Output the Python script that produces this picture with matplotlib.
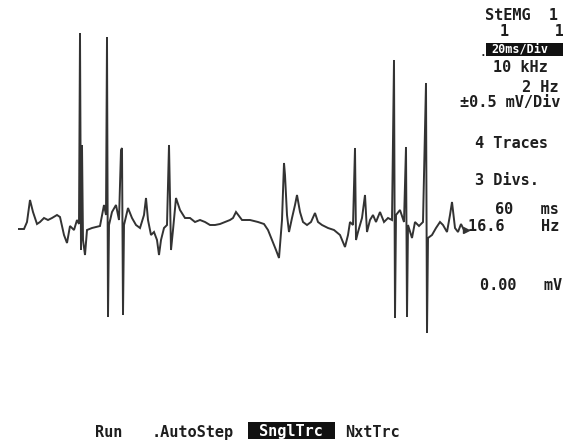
"""Single-trace EMG screen capture: superimposed traces plus the side/status text."""
import matplotlib
matplotlib.use("Agg")
import matplotlib.pyplot as plt
import numpy as np
from matplotlib.patches import Rectangle

W, H = 563, 444

# --- trace samples (t in ms, amplitude in mV) ---
time_ms = [0, 3, 4.5, 6, 7.5, 9.5, 11, 13, 15, 17, 19.5, 21, 23, 24.5, 26, 28, 29.5,
           30.5, 31, 31.5, 32, 32.5, 33.5, 34.5, 37, 41, 43, 44, 44.5, 45, 45.5, 47, 49,
           50.5, 51.5, 52, 52.5, 53, 55, 57, 59, 61, 63, 64, 65, 66.5, 68, 69.5, 70.5,
           71.5, 73, 74.5, 75.5, 76.5, 77.5, 79, 81, 83.5, 86, 88.5, 91, 93.5, 96, 98.5,
           101, 103.5, 106, 107.5, 109, 110.5, 112, 116, 120, 123, 125, 127, 129, 130.5,
           132, 133, 133.5, 134.5, 135.5, 137, 138.5, 139.5, 141, 142.5, 144.5, 146.5,
           148.5, 150, 152, 155, 158, 161, 163.5, 165, 166, 167.5, 168.5, 169, 170, 172,
           173.5, 174.5, 176, 177.5, 179, 181, 183, 185, 187, 188, 188.5, 189, 191, 193,
           194, 194.5, 195, 197, 198.5, 200.5, 202.5, 204, 204.5, 205, 207, 209, 211,
           212.5, 214.5, 216, 217, 218.5, 220, 221.5, 223, 224]
amp_mv = [-0.01, -0.01, 0.06, 0.28, 0.16, 0.04, 0.06, 0.10, 0.08, 0.10, 0.13, 0.11, -0.07,
          -0.15, 0.02, -0.02, 0.08,
          0.04, 1.95, -0.22, 0.83, -0.12, -0.27, -0.02, 0.0, 0.02, 0.23, 0.13, 1.91, -0.89,
          0.03, 0.16, 0.23,
          0.08, 0.78, 0.80, -0.87, 0.03, 0.20, 0.10, 0.03, 0.0, 0.13, 0.30, 0.08, -0.07,
          -0.04, -0.12, -0.27,
          -0.12, 0.0, 0.03, 0.83, -0.22, -0.02, 0.30, 0.18, 0.10, 0.10, 0.06, 0.08, 0.06,
          0.03, 0.03,
          0.04, 0.06, 0.08, 0.10, 0.16, 0.12, 0.08, 0.08, 0.06, 0.04, -0.02, -0.12, -0.22,
          -0.30,
          0.08, 0.65, 0.53, 0.13, -0.04, 0.10, 0.23, 0.33, 0.16, 0.06, 0.03, 0.06,
          0.15, 0.06, 0.03, 0.0, -0.02, -0.07, -0.19, -0.07, 0.06, 0.03, 0.80, -0.12,
          -0.04, 0.10,
          0.33, -0.04, 0.08, 0.13, 0.06, 0.16, 0.06, 0.10, 0.08, 1.68, -0.90, 0.13, 0.18,
          0.06,
          0.81, -0.89, 0.03, -0.10, 0.06, 0.02, 0.06, 1.45, -1.05, -0.10, -0.07, 0.0, 0.06,
          0.03, -0.04, 0.13, 0.26, 0.0, -0.04, 0.04, -0.02, -0.02]

# --- screen text ---
side_labels = [("StEMG  1", 485, 16), ("1     1", 500, 31), ("10 kHz", 493, 68),
               ("2 Hz", 522, 87), ("±0.5 mV/Div", 460, 102), ("4 Traces", 475, 143),
               ("3 Divs.", 475, 180), ("60   ms", 495, 209), ("16.6    Hz", 468, 226),
               ("0.00   mV", 480, 285)]
sweep_label = "20ms/Div"
menu_labels = [("Run", 95), (".AutoStep", 152), ("NxtTrc", 345)]
menu_active = "SnglTrc"

FONT = dict(family="DejaVu Sans Mono", fontweight="bold", fontsize=11)


def fx(px):
    return px / W


def fy(py):
    return 1 - py / H


fig = plt.figure(figsize=(W / 100, H / 100), dpi=100)
fig.patch.set_facecolor("white")

# trace area: 1 ms = 2 px, 1 mV = 100 px, baseline at y=228
ax = fig.add_axes([fx(18), 0, 448 / W, 1])
ax.set_xlim(0, 224)
ax.set_ylim(-2.16, 2.28)
ax.axis("off")
t = np.asarray(time_ms)
v = np.asarray(amp_mv)
ax.plot(t, v, color="#333333", lw=1.4, solid_joinstyle="miter")
ax.plot(t[-1], v[-1], marker=">", ms=4, color="#333333", clip_on=False)

for s, x, y in side_labels:
    fig.text(fx(x), fy(y), s, color="#1e1e1e", va="center", ha="left", **FONT)

# highlighted sweep speed box
fig.add_artist(Rectangle((fx(486), fy(56)), fx(W - 486), 13 / H,
                         transform=fig.transFigure, color="#111111", lw=0))
fig.text(fx(480), fy(53), ".", color="#1e1e1e", va="center", ha="left",
         family="DejaVu Sans Mono", fontweight="bold", fontsize=8)
fig.text(fx(491), fy(49.5), sweep_label, color="white", va="center", ha="left",
         family="DejaVu Sans Mono", fontweight="bold", fontsize=8.5)

# bottom soft-key menu
for s, x in menu_labels:
    fig.text(fx(x), fy(432), s, color="#1e1e1e", va="center", ha="left", **FONT)
fig.add_artist(Rectangle((fx(248), fy(439)), 87 / W, 17 / H,
                         transform=fig.transFigure, color="#111111", lw=0))
fig.text(fx(291), fy(431), menu_active, color="white", va="center", ha="center", **FONT)

fig.savefig("out.png", dpi=100, facecolor="white")
